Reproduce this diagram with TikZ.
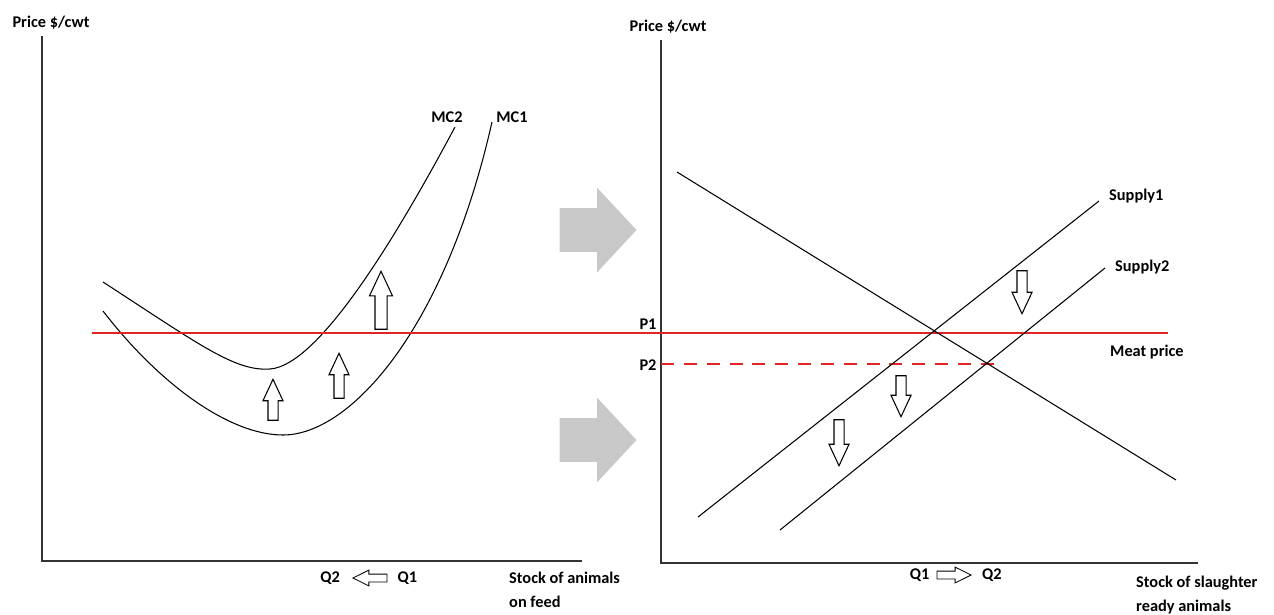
\documentclass[tikz,border=0pt]{standalone}
\usepackage{fontspec}
\setmainfont{Carlito}
\usetikzlibrary{arrows.meta,positioning,calc,shapes.arrows}
\definecolor{pricered}{RGB}{226,36,36}
\definecolor{shiftgray}{RGB}{200,200,200}

\begin{document}
\begin{tikzpicture}[x=0.02cm,y=-0.02cm,
  every node/.style={font=\fontsize{9.3}{14}\selectfont\bfseries},
  curve/.style={line width=0.6pt},
  axis/.style={line width=0.9pt,draw=black!80},
  hollow/.style={single arrow,draw,fill=white,line width=0.6pt,inner ysep=0pt,inner xsep=0.09cm,
    single arrow head extend=0.1cm,single arrow tip angle=50,anchor=tip},
  shiftarrow/.style={single arrow,fill=shiftgray,inner xsep=0pt,inner ysep=0.43cm,
    single arrow head extend=0.41cm,single arrow tip angle=94,minimum height=1.54cm,anchor=tip},
  qarrow/.style={single arrow,draw,line width=0.5pt,inner xsep=0pt,inner ysep=0.07cm,
    single arrow head extend=0.08cm,single arrow tip angle=53,minimum height=0.68cm,anchor=tip}]
  \useasboundingbox (0,0) rectangle (1274,615);

  % left panel: feeder cattle
  \coordinate (lorigin) at (42,561);
  \draw[axis] (42,36) -- (lorigin) -- (582,561);
  \node (lprice) at (51,23) {Price \$/cwt};
  \draw[curve] (103,282) .. controls (200,345) and (235,371.5) .. (270,369)
    .. controls (320,365.5) and (400,230) .. (455,127);
  \draw[curve] (103,311) .. controls (160,385) and (230,435) .. (283,435)
    .. controls (350,435) and (445,330) .. (492,122);
  \node (mctwo) at (447,117) {MC2};
  \node (mcone) at (512,117) {MC1};
  \node[hollow,shape border rotate=90,minimum height=0.82cm] (upa) at (273,378) {};
  \node[hollow,shape border rotate=90,minimum height=0.9cm] (upb) at (339,352) {};
  \node[hollow,shape border rotate=90,minimum height=1.16cm,inner xsep=0.11cm,single arrow head extend=0.11cm] (upc) at (381,270) {};
  \node[qarrow,shape border rotate=180] (qshiftl) at (352,578) {};
  \node[left=0.12cm of qshiftl] (qtwol) {Q2};
  \node[right=0.08cm of qshiftl] (qonel) {Q1};
  \node[anchor=west,align=left] (lstock) at (503,590) {Stock of animals\\on feed};

  % shift between the panels
  \node[shiftarrow] (shifttop) at (637,230) {};
  \node[shiftarrow] (shiftbot) at (637,440) {};

  % right panel: slaughter cattle
  \coordinate (rorigin) at (661,563);
  \draw[axis] (661,40) -- (rorigin) -- (1198,563);
  \node (rprice) at (668,27) {Price \$/cwt};
  \draw[pricered,line width=0.7pt] (92,333) -- (1168,333);
  \draw[pricered,line width=0.7pt,dash pattern=on 7.4pt off 5.6pt] (661,364) -- (995,364);
  \node (pone) at (648,324) {P1};
  \node (ptwo) at (648,365) {P2};
  \node[anchor=west] (meat) at (1104,352) {Meat price};
  \draw[curve] (677,172) -- (1176,480);
  \draw[curve] (698,517) -- (1099,201);
  \draw[curve] (780,530) -- (1105,268);
  \node[anchor=west] (supone) at (1103,196) {Supply1};
  \node[anchor=west] (suptwo) at (1109,267) {Supply2};
  \node[hollow,shape border rotate=270,minimum height=0.86cm] (downa) at (1022,315) {};
  \node[hollow,shape border rotate=270,minimum height=0.82cm] (downb) at (901,418) {};
  \node[hollow,shape border rotate=270,minimum height=0.92cm] (downc) at (839,467) {};
  \node[qarrow] (qshiftr) at (972,575) {};
  \node[left=0.02cm of qshiftr] (qoner) {Q1};
  \node[right=0.08cm of qshiftr] (qtwor) {Q2};
  \node[anchor=west,align=left] (rstock) at (1130,595) {Stock of slaughter\\ready animals};
\end{tikzpicture}
\end{document}
